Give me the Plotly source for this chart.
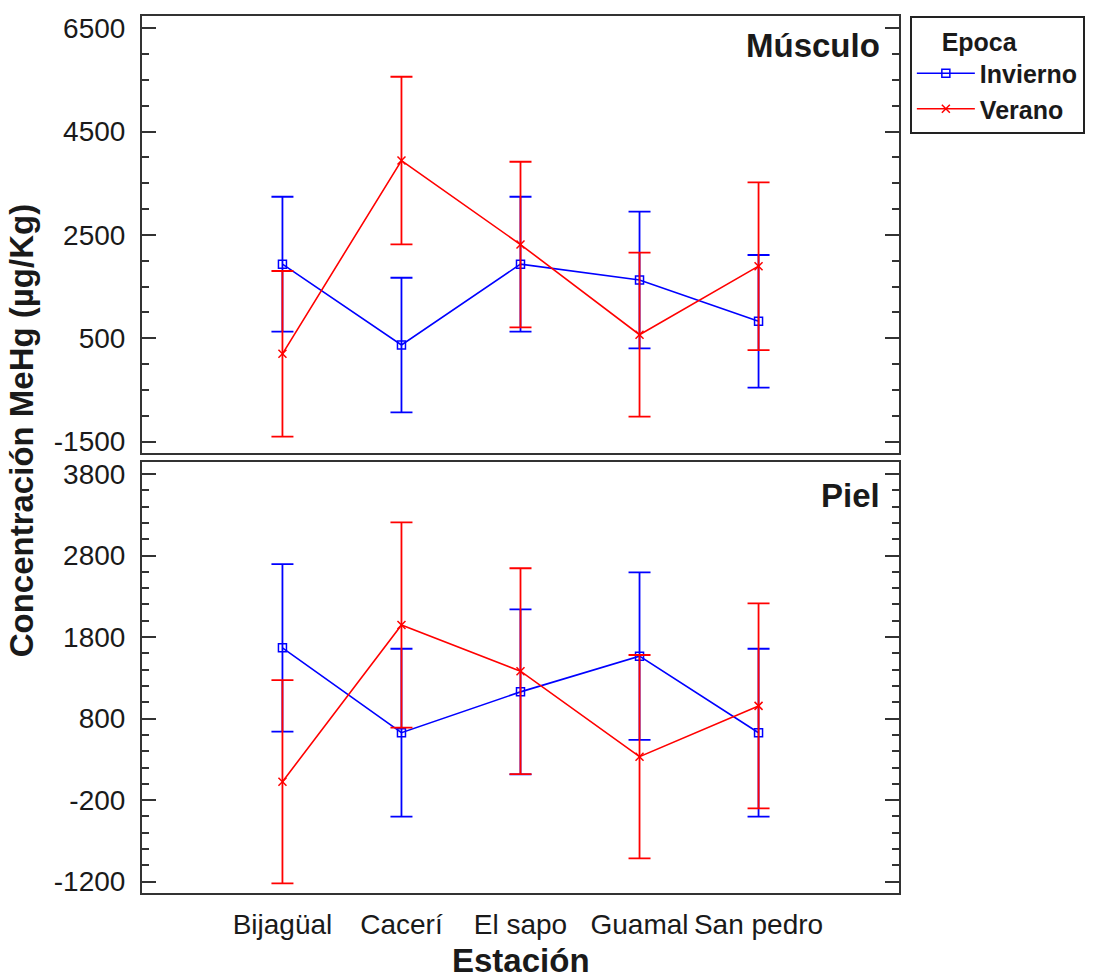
import plotly.graph_objects as go

estaciones = ["Bijagüal", "Cacerí", "El sapo", "Guamal", "San pedro"]

musculo_invierno = [1935, 370, 1935, 1628, 828]
musculo_invierno_err = [1305, 1302, 1305, 1322, 1284]
musculo_verano = [200, 3940, 2315, 570, 1896]
musculo_verano_err = [1603, 1622, 1602, 1587, 1623]

piel_invierno = [1668, 627, 1128, 1566, 627]
piel_invierno_err = [1028, 1030, 1012, 1028, 1030]
piel_verano = [26, 1948, 1382, 333, 956]
piel_verano_err = [1247, 1259, 1262, 1247, 1257]

musculo_ticks = [-1500, 500, 2500, 4500, 6500]
musculo_ticktext = ["-1500", "500", "2500", "4500", "6500"]
piel_ticks = [-1200, -200, 800, 1800, 2800, 3800]
piel_ticktext = ["-1200", "-200", "800", "1800", "2800", "3800"]

FONT = "Liberation Sans, Arial, sans-serif"
BLUE = "#0000ff"
RED = "#ff0000"
AX = "#333333"
TXT = "#1a1a1a"
xpos = list(range(len(estaciones)))

fig = go.Figure()

def add(y, err, color, symbol, name, xa, ya, show):
    fig.add_trace(go.Scatter(
        x=xpos, y=y, mode="lines+markers", name=name, showlegend=show,
        legendgroup=name, xaxis=xa, yaxis=ya,
        line=dict(color=color, width=1.6),
        marker=dict(symbol=symbol, size=8, color=color,
                    line=dict(color=color, width=1.5)),
        error_y=dict(type="data", array=err, visible=True, color=color,
                     thickness=1.8, width=11),
    ))

add(musculo_invierno, musculo_invierno_err, BLUE, "square-open", "Invierno", "x", "y", True)
add(musculo_verano, musculo_verano_err, RED, "x-thin-open", "Verano", "x", "y", True)
add(piel_invierno, piel_invierno_err, BLUE, "square-open", "Invierno", "x2", "y2", False)
add(piel_verano, piel_verano_err, RED, "x-thin-open", "Verano", "x2", "y2", False)

xr = [-1.18, 5.18]
common_x = dict(range=xr, showline=True, linewidth=2, linecolor=AX,
                mirror=True, showgrid=False, zeroline=False, ticks="")
common_y = dict(showline=True, linewidth=2, linecolor=AX, mirror="ticks",
                showgrid=False, zeroline=False, ticks="inside", ticklen=14,
                tickwidth=2, tickcolor=AX,
                tickfont=dict(family=FONT, size=28, color=TXT),
                ticklabelstandoff=9)

fig.update_layout(
    width=1096, height=980,
    margin=dict(l=142, r=196, t=16, b=87),
    paper_bgcolor="white", plot_bgcolor="white",
    font=dict(family=FONT, color=TXT),
    xaxis=dict(common_x, domain=[0, 1], anchor="y", showticklabels=False),
    yaxis=dict(common_y, domain=[0.5017, 1], anchor="x",
               range=[-1720, 6738], tickvals=musculo_ticks, ticktext=musculo_ticktext,
               minor=dict(ticks="inside", ticklen=7, tickwidth=2,
                          tickcolor=AX, dtick=500, tick0=-1500)),
    xaxis2=dict(common_x, domain=[0, 1], anchor="y2",
                tickvals=xpos, ticktext=estaciones,
                tickfont=dict(family=FONT, size=28, color=TXT),
                ticklabelstandoff=5),
    yaxis2=dict(common_y, domain=[0, 0.4914], anchor="x2",
                range=[-1339, 3947], tickvals=piel_ticks, ticktext=piel_ticktext,
                minor=dict(ticks="inside", ticklen=7, tickwidth=2,
                           tickcolor=AX, dtick=200, tick0=-1200)),
    legend=dict(
        x=1.013, y=1.0, xanchor="left", yanchor="top",
        bordercolor="#222222", borderwidth=2, bgcolor="white",
        title=dict(text="&nbsp;&nbsp;&nbsp;&nbsp;<b>Epoca</b>",
                   font=dict(family=FONT, size=25, color=TXT)),
        font=dict(family=FONT, size=25, color=TXT, weight="bold"),
        itemwidth=58, tracegroupgap=0,
    ),
    annotations=[
        dict(text="<b>Músculo</b>", x=0.9775, y=0.9658, xref="paper", yref="paper",
             xanchor="right", yanchor="middle", showarrow=False,
             font=dict(family=FONT, size=33, color=TXT)),
        dict(text="<b>Piel</b>", x=0.9775, y=0.4538, xref="paper", yref="paper",
             xanchor="right", yanchor="middle", showarrow=False,
             font=dict(family=FONT, size=33, color=TXT)),
        dict(text="<b>Concentración MeHg (µg/Kg)</b>", x=-0.158, y=0.528,
             xref="paper", yref="paper", xanchor="center", yanchor="middle",
             textangle=-90, showarrow=False,
             font=dict(family=FONT, size=33, color=TXT)),
        dict(text="<b>Estación</b>", x=0.5, y=-0.077, xref="paper", yref="paper",
             xanchor="center", yanchor="middle", showarrow=False,
             font=dict(family=FONT, size=33, color=TXT)),
    ],
)

fig.write_html("out.html", config={"displayModeBar": False},
               post_script="document.body.style.margin='0px';")
